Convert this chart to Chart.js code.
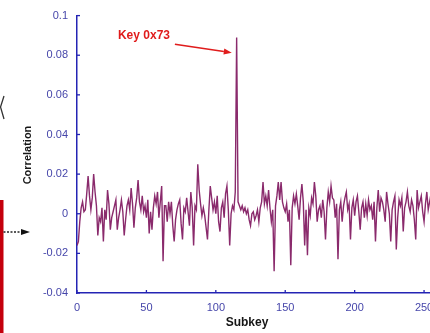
<!DOCTYPE html>
<html><head><meta charset="utf-8">
<script src="https://cdn.jsdelivr.net/npm/chart.js@4.4.1/dist/chart.umd.min.js"></script>
<style>
html,body{margin:0;padding:0;background:#fff;overflow:hidden;width:430px;height:333px;}
#wrap{position:relative;width:445px;height:333px;}
canvas{display:block;}
</style></head><body>
<div id="wrap"><canvas id="c" width="445" height="333"></canvas></div>
<script>
const subkeys = Array.from({length: 256}, (_, i) => i);
const correlation = [
-0.016,-0.014,-0.004,0.003,0.006,0.001,0.002,0.010,0.019,0.009,
0.002,0.008,0.020,0.011,0.004,-0.011,-0.002,-0.004,0.003,-0.014,
0.002,-0.003,0.012,0.005,-0.008,-0.002,0.001,0.004,0.007,-0.008,
-0.002,0.002,0.007,0.001,-0.011,-0.003,0.004,0.007,0.002,0.013,
0.005,-0.007,0.003,0.008,0.017,0.006,0.002,0.009,0.001,0.004,
-0.002,0.007,-0.010,0.001,-0.008,0.003,0.009,0.005,0.011,-0.002,
0.006,0.014,-0.024,0.004,0.004,-0.004,0.006,0.000,0.006,-0.006,
-0.014,-0.003,0.002,0.005,0.007,-0.005,-0.013,0.003,0.001,0.008,
0.001,-0.006,0.011,0.003,-0.016,0.004,0.002,0.025,0.012,0.005,
-0.001,0.003,-0.001,-0.007,-0.013,0.002,0.014,0.008,0.002,0.006,
0.000,0.009,-0.004,-0.009,0.003,0.006,-0.002,0.010,0.014,0.002,
-0.016,0.000,0.004,0.002,0.011,0.089,0.006,0.004,0.002,0.004,
0.001,0.003,0.000,0.002,-0.003,-0.006,0.000,0.001,-0.003,-0.001,
0.002,-0.004,0.003,0.006,0.016,0.005,0.009,0.004,0.012,0.003,
-0.004,0.002,-0.029,0.004,0.009,0.016,0.007,0.016,0.006,0.003,
0.001,0.005,-0.004,0.002,-0.026,0.003,0.009,0.005,0.010,0.004,
-0.003,0.008,0.015,0.006,-0.016,0.002,-0.021,0.003,-0.001,0.008,
0.005,0.016,0.009,-0.004,0.002,0.004,-0.002,0.007,0.001,-0.013,
0.003,0.011,0.006,0.014,0.008,0.007,-0.002,0.005,-0.023,0.002,
0.006,-0.004,0.004,0.008,0.011,0.002,0.005,-0.013,0.003,0.007,
-0.001,0.006,0.009,0.001,-0.008,0.003,0.006,-0.002,0.005,-0.001,
0.007,0.002,0.004,-0.003,0.006,-0.014,0.003,0.012,0.001,0.008,
0.006,0.002,-0.004,0.011,0.005,0.000,-0.014,0.002,0.006,0.009,
-0.018,-0.002,0.007,0.004,0.008,-0.009,0.003,0.006,0.011,0.004,
0.001,0.007,0.004,-0.003,-0.013,0.012,0.003,0.006,0.009,0.001,
-0.004,0.005,0.011,0.002,0.006,0.010
];
const xTicks = [0, 50, 100, 150, 200, 250];
const yTicks = [0.1, 0.08, 0.06, 0.04, 0.02, 0, -0.02, -0.04];
const yTickLabels = ['0.1', '0.08', '0.06', '0.04', '0.02', '0', '-0.02', '-0.04'];
const xTitle = 'Subkey';
const yTitle = 'Correlation';
const keyLabel = 'Key 0x73';

const AXIS = '#2424b4';
const TICKTXT = '#4646aa';
const FONT = '"Liberation Sans", Arial, sans-serif';

const extras = {
  id: 'extras',
  afterDraw(chart) {
    const ctx = chart.ctx, xs = chart.scales.x, ys = chart.scales.y;
    ctx.save();
    ctx.strokeStyle = AXIS; ctx.lineWidth = 1.3;
    const ay = ys.getPixelForValue(-0.04);
    xTicks.forEach(v => { const px = xs.getPixelForValue(v); ctx.beginPath(); ctx.moveTo(px, ay); ctx.lineTo(px, ay - 3); ctx.stroke(); });
    const ax = xs.getPixelForValue(0);
    yTicks.forEach(v => { const py = ys.getPixelForValue(v); ctx.beginPath(); ctx.moveTo(ax, py); ctx.lineTo(ax + 3, py); ctx.stroke(); });
    ctx.fillStyle = '#151515';
    ctx.font = 'bold 12px ' + FONT;
    ctx.textAlign = 'center'; ctx.textBaseline = 'middle';
    ctx.fillText(xTitle, 247, 323);
    ctx.save();
    ctx.translate(28, 155); ctx.rotate(-Math.PI / 2);
    ctx.font = 'bold 11px ' + FONT;
    ctx.fillText(yTitle, 0, 0);
    ctx.restore();
    ctx.fillStyle = '#e01c1c';
    ctx.font = 'bold 12px ' + FONT;
    ctx.textAlign = 'left';
    ctx.fillText(keyLabel, xs.getPixelForValue(29.5), ys.getPixelForValue(0.0897));
    const tx = xs.getPixelForValue(70.5), ty = ys.getPixelForValue(0.0855);
    const hx = xs.getPixelForValue(111.5), hy = ys.getPixelForValue(0.0813);
    ctx.strokeStyle = '#e01c1c'; ctx.lineWidth = 1.6;
    const ang = Math.atan2(hy - ty, hx - tx);
    const bx = hx - 8 * Math.cos(ang), by = hy - 8 * Math.sin(ang);
    ctx.beginPath(); ctx.moveTo(tx, ty); ctx.lineTo(bx, by); ctx.stroke();
    ctx.beginPath();
    ctx.moveTo(hx, hy);
    ctx.lineTo(bx + 3 * Math.sin(ang), by - 3 * Math.cos(ang));
    ctx.lineTo(bx - 3 * Math.sin(ang), by + 3 * Math.cos(ang));
    ctx.closePath(); ctx.fill();
    ctx.fillStyle = '#c4000c';
    ctx.fillRect(0, 200, 3.5, 133);
    ctx.strokeStyle = '#222'; ctx.lineWidth = 1.4;
    ctx.setLineDash([2, 1.5]);
    ctx.beginPath(); ctx.moveTo(3.5, 232); ctx.lineTo(21, 232); ctx.stroke();
    ctx.setLineDash([]);
    ctx.fillStyle = '#111';
    ctx.beginPath(); ctx.moveTo(21, 229); ctx.lineTo(30, 232); ctx.lineTo(21, 235); ctx.closePath(); ctx.fill();
    ctx.strokeStyle = '#333'; ctx.lineWidth = 1.3;
    ctx.beginPath(); ctx.moveTo(4, 96); ctx.lineTo(0.5, 107); ctx.lineTo(4, 119); ctx.stroke();
    ctx.restore();
  }
};

new Chart(document.getElementById('c'), {
  type: 'line',
  data: {
    datasets: [{
      data: subkeys.map((k, i) => ({x: k, y: correlation[i]})),
      borderColor: '#8a2a6c',
      borderWidth: 1.4,
      pointRadius: 0,
      tension: 0,
      fill: false
    }]
  },
  options: {
    responsive: false,
    animation: false,
    devicePixelRatio: 1,
    layout: {padding: {top: 13, right: 14, left: 0, bottom: 0}},
    plugins: {legend: {display: false}, tooltip: {enabled: false}},
    scales: {
      x: {
        type: 'linear', min: 0, max: 255,
        afterFit(s) { s.height = 40; },
        afterBuildTicks(s) { s.ticks = xTicks.map(v => ({value: v})); },
        grid: {drawOnChartArea: false, drawTicks: false},
        border: {display: true, color: AXIS, width: 1.5},
        ticks: {color: TICKTXT, font: {family: FONT, size: 11}, padding: 8, maxRotation: 0,
                callback: v => String(v)}
      },
      y: {
        type: 'linear', min: -0.04, max: 0.1,
        afterFit(s) { s.width = 77; },
        afterBuildTicks(s) { s.ticks = yTicks.map(v => ({value: v})); },
        grid: {drawOnChartArea: false, drawTicks: false},
        border: {display: true, color: AXIS, width: 1.5},
        ticks: {color: TICKTXT, font: {family: FONT, size: 11}, padding: 9,
                callback: (v) => { const k = yTicks.findIndex(t => Math.abs(t - v) < 1e-9); return k >= 0 ? yTickLabels[k] : ''; }}
      }
    }
  },
  plugins: [extras]
});
</script>
</body></html>
